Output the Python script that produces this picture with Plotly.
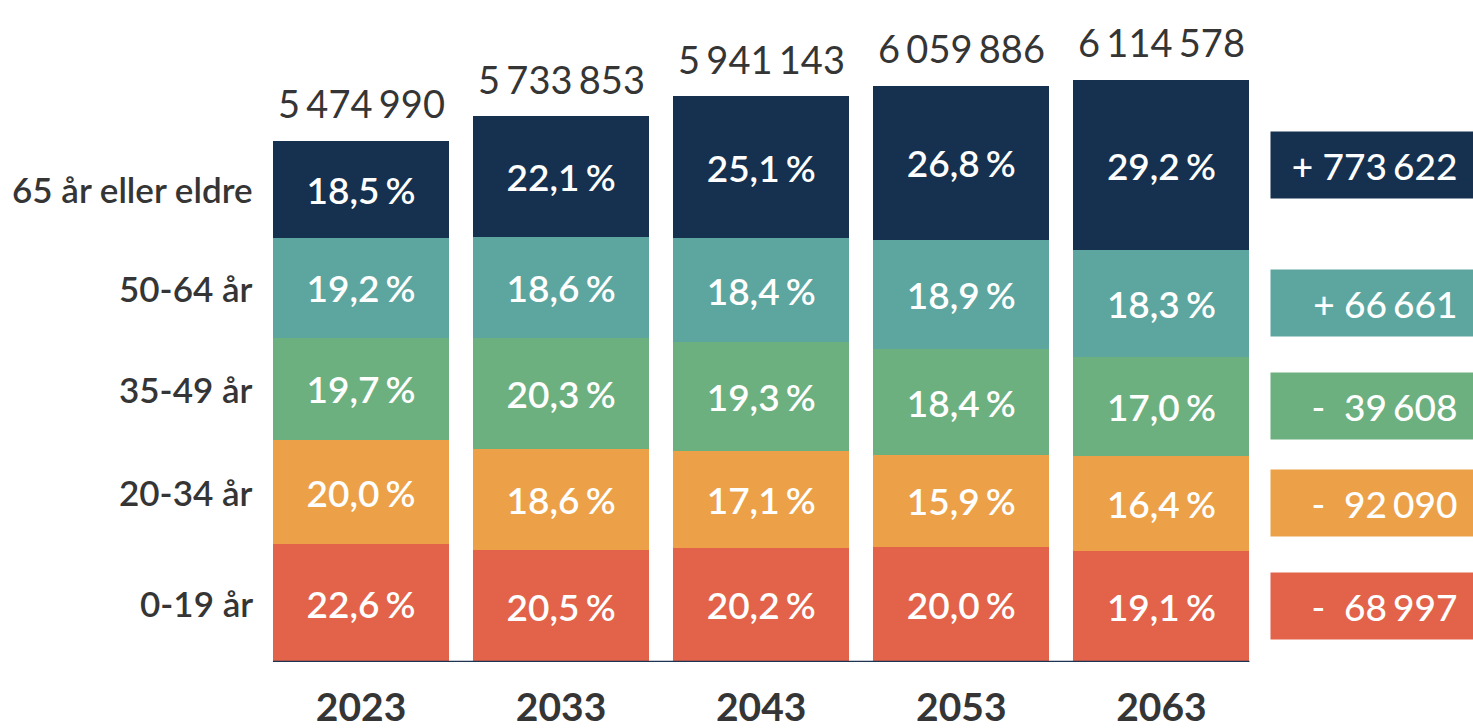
import plotly.graph_objects as go

# Population projection by age group (share of total, %)
years = ["2023", "2033", "2043", "2053", "2063"]
totals = [5474990, 5733853, 5941143, 6059886, 6114578]
groups = ["0-19 år", "20-34 år", "35-49 år", "50-64 år", "65 år eller eldre"]
pct_0_19 = [22.6, 20.5, 20.2, 20.0, 19.1]
pct_20_34 = [20.0, 18.6, 17.1, 15.9, 16.4]
pct_35_49 = [19.7, 20.3, 19.3, 18.4, 17.0]
pct_50_64 = [19.2, 18.6, 18.4, 18.9, 18.3]
pct_65_plus = [18.5, 22.1, 25.1, 26.8, 29.2]
change_2023_2063 = [-68997, -92090, -39608, 66661, 773622]

shares = [pct_0_19, pct_20_34, pct_35_49, pct_50_64, pct_65_plus]
colors = ["#e2634a", "#eca148", "#6cb07f", "#5ca69f", "#15314f"]

FONT = "Lato"
DARK = "#353535"
GAP = "\u2006"
BAR_W = 0.88
x = list(range(len(years)))


def fmt_int(n):
    return f"{n:,}".replace(",", GAP)


def fmt_pct(p):
    return f"{p:.1f}".replace(".", ",") + GAP + "%"


def fmt_change(n):
    sign = "+ " if n >= 0 else "-  "
    return sign + fmt_int(abs(n))


fig = go.Figure()

# absolute counts per segment, stacked
segments = []
for g, pcts, col in zip(groups, shares, colors):
    vals = [p / 100 * t for p, t in zip(pcts, totals)]
    segments.append(vals)
    fig.add_trace(go.Bar(
        x=x, y=vals, name=g, width=BAR_W,
        marker=dict(color=col, line=dict(width=0)),
        text=[fmt_pct(p) for p in pcts],
        textposition="inside", insidetextanchor="middle",
        textangle=0, constraintext="none",
        textfont=dict(family=FONT, size=37, color="white", weight=600),
        hoverinfo="skip",
    ))


def centres(col_idx):
    """Vertical centre of every stacked segment in one column."""
    out, acc = [], 0.0
    for vals in segments:
        v = vals[col_idx]
        out.append(acc + v / 2)
        acc += v
    return out


first_centres = centres(0)
last_centres = centres(len(years) - 1)

annotations = []
# total above each bar
for xi, t in zip(x, totals):
    annotations.append(dict(
        x=xi, y=t, xref="x", yref="y", text=fmt_int(t), showarrow=False,
        yanchor="bottom", yshift=13,
        font=dict(family=FONT, size=38, color=DARK),
    ))

# age group labels at the left of the first bar
for g, yc in zip(groups, first_centres):
    annotations.append(dict(
        x=-BAR_W / 2 - 0.09, y=yc, xref="x", yref="y", text=g,
        showarrow=False, xanchor="right", yanchor="middle",
        font=dict(family=FONT, size=35, color=DARK, weight=600),
    ))

# change 2023-2063 boxes to the right of the last bar
box_left = len(years) - 1 + BAR_W / 2 + 0.105
for n, yc, col in zip(change_2023_2063, last_centres, colors):
    annotations.append(dict(
        x=box_left, y=yc, xref="x", yref="y",
        text=fmt_change(n) + "\u00a0\u2006",
        showarrow=False, xanchor="left", yanchor="middle",
        width=202, height=66, align="right", valign="middle",
        bgcolor=col, borderpad=0,
        font=dict(family=FONT, size=37, color="white", weight=500),
    ))

# baseline under the bars
shapes = [dict(
    type="line", xref="x", yref="y",
    x0=-BAR_W / 2, x1=len(years) - 1 + BAR_W / 2, y0=0, y1=0,
    line=dict(color="#1c3352", width=2.5),
)]

fig.update_layout(
    barmode="stack",
    width=1473, height=728,
    margin=dict(l=0, r=0, t=0, b=66),
    paper_bgcolor="white", plot_bgcolor="white",
    showlegend=False,
    annotations=annotations, shapes=shapes,
    xaxis=dict(
        range=[-1.804, 5.557], tickvals=x, ticktext=years,
        showgrid=False, zeroline=False, showline=False, ticks="",
        ticklabelstandoff=19,
        tickfont=dict(family=FONT, size=39, color=DARK, weight=700),
        fixedrange=True,
    ),
    yaxis=dict(
        range=[0, 6.96e6], visible=False, showgrid=False, zeroline=False,
        fixedrange=True,
    ),
)

fig.write_html("out.html")
